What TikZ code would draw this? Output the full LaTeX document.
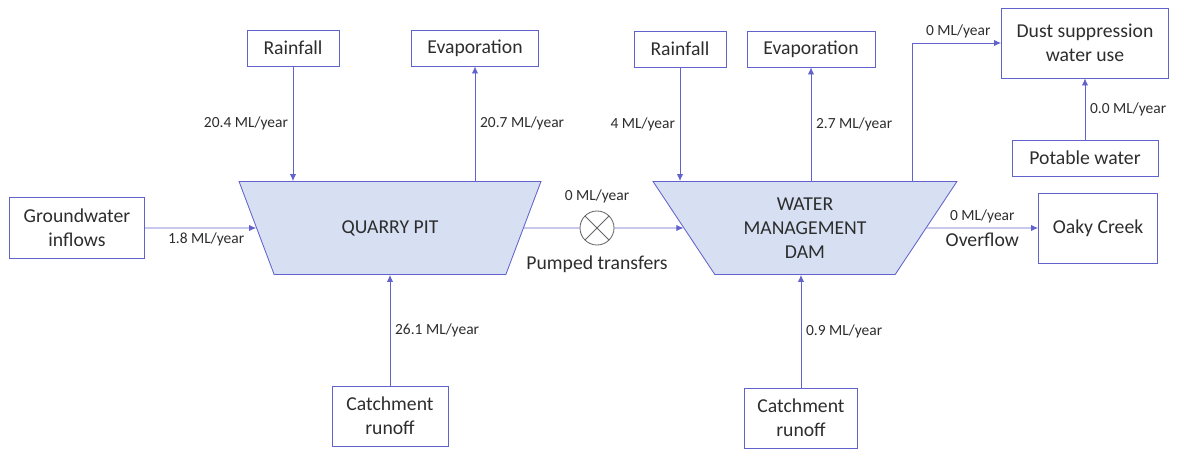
\documentclass[tikz,border=0pt]{standalone}
\usepackage{fontspec}
\setmainfont{Carlito}
\usetikzlibrary{calc,shapes.geometric,arrows.meta}
\definecolor{flowline}{RGB}{98,98,204}
\definecolor{pitfill}{RGB}{214,224,242}
\definecolor{txtgrey}{RGB}{45,45,45}
\tikzset{
	srcbox/.style={draw=flowline, line width=0.6pt, text=txtgrey, align=center, inner sep=2pt, font=\fontsize{14}{17}\selectfont},
	basin/.style={trapezium, trapezium angle=57, trapezium stretches=true, shape border rotate=180, minimum width=7.6cm, minimum height=2.325cm, draw=flowline, fill=pitfill, line width=0.6pt, text=txtgrey, align=center, font=\fontsize{14}{17}\selectfont},
	flowarrow/.style={draw=flowline, line width=0.6pt, -{Latex[length=5pt,width=4.5pt]}},
	ratelabel/.style={text=txtgrey, font=\fontsize{11}{13}\selectfont},
	biglabel/.style={text=txtgrey, font=\fontsize{14}{17}\selectfont}
}

\begin{document}
\begin{tikzpicture}[x=0.025cm, y=-0.025cm]
			%%%%% START %%%%%
			\useasboundingbox (0, 0) rectangle (1192, 452);
			
			\node[basin] (pit) at (390, 228) {QUARRY PIT};
			\node[basin] (dam) at (805, 228) {WATER\\MANAGEMENT\\DAM};
			
			\node[srcbox, minimum width=2.3cm, minimum height=0.9cm] (rainpit) at (293, 48) {Rainfall};
			\node[srcbox, minimum width=3.175cm, minimum height=0.9cm] (evappit) at (475, 48) {Evaporation};
			\node[srcbox, minimum width=2.3cm, minimum height=0.9cm] (raindam) at (680, 49) {Rainfall};
			\node[srcbox, minimum width=3.2cm, minimum height=0.9cm] (evapdam) at (811, 49) {Evaporation};
			
			\node[srcbox, minimum width=3.375cm, minimum height=1.525cm] (ground) at (77, 228) {Groundwater\\inflows};
			\node[srcbox, minimum width=2.9cm, minimum height=1.5cm] (runpit) at (390, 416) {Catchment\\runoff};
			\node[srcbox, minimum width=2.825cm, minimum height=1.5cm] (rundam) at (801, 418) {Catchment\\runoff};
			
			\node[srcbox, minimum width=4.175cm, minimum height=1.75cm] (dust) at (1085, 43) {Dust suppression\\water use};
			\node[srcbox, minimum width=3.65cm, minimum height=0.9cm] (potable) at (1085, 158) {Potable water};
			\node[srcbox, minimum width=2.975cm, minimum height=1.75cm] (oaky) at (1098, 228) {Oaky Creek};
			
			\node[circle, draw=black!60, line width=0.6pt, minimum size=0.85cm, inner sep=0pt,
				path picture={\draw[black!60, line width=0.6pt] (path picture bounding box.north west) -- (path picture bounding box.south east) (path picture bounding box.north east) -- (path picture bounding box.south west);}] (valve) at (597, 228) {};
			
			% quarry pit
			\draw[flowarrow] (rainpit.south) -- (rainpit.south |- pit.north) node[midway, left, ratelabel] {20.4 ML/year};
			\draw[flowarrow] (evappit.south |- pit.north) -- (evappit.south) node[midway, right, ratelabel] {20.7 ML/year};
			\draw[flowarrow] (ground.east) -- (pit.west) node[pos=0.55, below, ratelabel] {1.8 ML/year};
			\draw[flowarrow] (runpit.north) -- (runpit.north |- pit.south) node[midway, right, ratelabel] {26.1 ML/year};
			
			% pumped transfers
			\draw[draw=flowline, line width=0.6pt] (pit.east) -- (valve.west);
			\draw[flowarrow] (valve.east) -- (dam.west);
			\node[ratelabel, above=2pt] at (valve.north) {0 ML/year};
			\node[biglabel, below=4pt] at (valve.south) {Pumped transfers};
			
			% water management dam
			\draw[flowarrow] (raindam.south) -- (raindam.south |- dam.north) node[midway, left, ratelabel] {4 ML/year};
			\draw[flowarrow] (evapdam.south |- dam.north) -- (evapdam.south) node[midway, right, ratelabel] {2.7 ML/year};
			\draw[flowarrow] (rundam.north) -- (rundam.north |- dam.south) node[midway, right, ratelabel] {0.9 ML/year};
			\draw[flowarrow] (dam.north -| 912, 0) |- (dust.west) node[pos=0.76, above, ratelabel] {0 ML/year};
			\draw[flowarrow] (potable.north) -- (dust.south) node[midway, right, ratelabel] {0.0 ML/year};
			\draw[flowarrow] (dam.east) -- (oaky.west) node[midway, above, ratelabel] {0 ML/year} node[midway, below, biglabel] {Overflow};
			
			%%%%% END %%%%%
\end{tikzpicture}
\end{document}
